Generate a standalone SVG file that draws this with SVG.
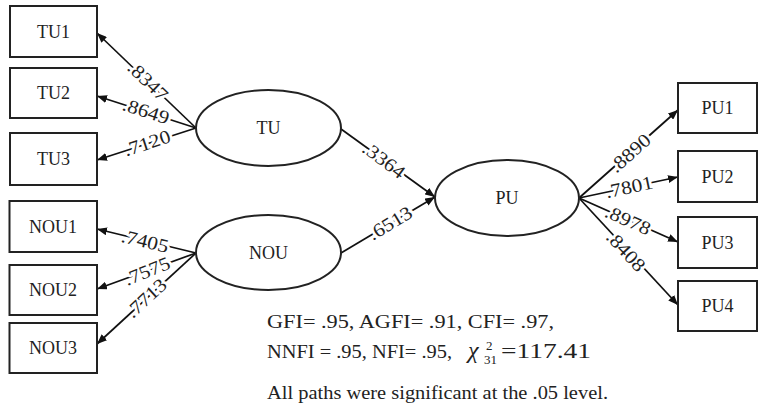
<svg xmlns="http://www.w3.org/2000/svg" width="759" height="407" viewBox="0 0 759 407">
  <defs>
    <marker id="arrow" viewBox="0 0 10 8" refX="10" refY="4" markerWidth="10" markerHeight="8" markerUnits="userSpaceOnUse" orient="auto">
      <path d="M0,0 L10,4 L0,8 Z" fill="#111"/>
    </marker>
    <style>
      text { font-family: 'Liberation Serif', 'DejaVu Serif', 'Times New Roman', serif; fill: #222; }
      .box { fill: #fff; stroke: #222; stroke-width: 2; }
      .lat { fill: #fff; stroke: #222; stroke-width: 2; }
      .name { font-size: 18px; text-anchor: middle; dominant-baseline: central; }
      .edge { stroke: #111; stroke-width: 1.7; fill: none; marker-end: url(#arrow); }
      .lbl { font-size: 19px; text-anchor: middle; dominant-baseline: central; stroke: #fff; stroke-width: 5; paint-order: stroke; stroke-linejoin: round; }
      .note { font-size: 18.5px; }
    </style>
  </defs>

  <rect width="759" height="407" fill="#fff"/>

  <!-- connectors -->
  <g id="connectors">
    <line class="edge" x1="196" y1="128" x2="97" y2="33"/>
    <line class="edge" x1="196" y1="128" x2="97" y2="96"/>
    <line class="edge" x1="196" y1="128" x2="97" y2="160"/>
    <line class="edge" x1="196" y1="253" x2="97" y2="229"/>
    <line class="edge" x1="196" y1="253" x2="97" y2="289"/>
    <line class="edge" x1="196" y1="253" x2="97" y2="344"/>
    <line class="edge" x1="341" y1="129" x2="435" y2="197"/>
    <line class="edge" x1="341" y1="253" x2="435" y2="197"/>
    <line class="edge" x1="579" y1="198" x2="678" y2="110"/>
    <line class="edge" x1="579" y1="198" x2="678" y2="177"/>
    <line class="edge" x1="579" y1="198" x2="678" y2="242"/>
    <line class="edge" x1="579" y1="198" x2="678" y2="305"/>

    <text class="lbl" transform="translate(148,81) rotate(43.8)" textLength="48" lengthAdjust="spacingAndGlyphs">.8347</text>
    <text class="lbl" transform="translate(146,111) rotate(17.9)" textLength="48" lengthAdjust="spacingAndGlyphs">.8649</text>
    <text class="lbl" transform="translate(147,143) rotate(-17.9)" textLength="48" lengthAdjust="spacingAndGlyphs">.7120</text>
    <text class="lbl" transform="translate(145,241) rotate(13.6)" textLength="48" lengthAdjust="spacingAndGlyphs">.7405</text>
    <text class="lbl" transform="translate(147,271) rotate(-22)" textLength="48" lengthAdjust="spacingAndGlyphs">.7575</text>
    <text class="lbl" transform="translate(146,298) rotate(-42.6)" textLength="48" lengthAdjust="spacingAndGlyphs">.7713</text>
    <text class="lbl" transform="translate(384,160) rotate(36.5)" textLength="48" lengthAdjust="spacingAndGlyphs">.3364</text>
    <text class="lbl" transform="translate(390,223) rotate(-31.3)" textLength="48" lengthAdjust="spacingAndGlyphs">.6513</text>
    <text class="lbl" transform="translate(630,153) rotate(-41.6)" textLength="48" lengthAdjust="spacingAndGlyphs">.8890</text>
    <text class="lbl" transform="translate(629,187) rotate(-12)" textLength="48" lengthAdjust="spacingAndGlyphs">.7801</text>
    <text class="lbl" transform="translate(628,220) rotate(24)" textLength="48" lengthAdjust="spacingAndGlyphs">.8978</text>
    <text class="lbl" transform="translate(626,251) rotate(47)" textLength="48" lengthAdjust="spacingAndGlyphs">.8408</text>
  </g>

  <!-- observed indicators -->
  <g id="TU1"><rect class="box" x="10" y="6" width="87" height="51"/><text class="name" x="53.5" y="31.5">TU1</text></g>
  <g id="TU2"><rect class="box" x="10" y="68" width="87" height="50"/><text class="name" x="53.5" y="93">TU2</text></g>
  <g id="TU3"><rect class="box" x="10" y="133" width="87" height="52"/><text class="name" x="53.5" y="159">TU3</text></g>
  <g id="NOU1"><rect class="box" x="9.5" y="201" width="87.5" height="51"/><text class="name" x="53" y="226.5">NOU1</text></g>
  <g id="NOU2"><rect class="box" x="9.5" y="265" width="87.5" height="50"/><text class="name" x="53" y="290">NOU2</text></g>
  <g id="NOU3"><rect class="box" x="9.5" y="323" width="87.5" height="50"/><text class="name" x="53" y="348">NOU3</text></g>
  <g id="PU1"><rect class="box" x="678" y="83" width="79" height="50"/><text class="name" x="717.5" y="108">PU1</text></g>
  <g id="PU2"><rect class="box" x="678" y="151" width="79" height="51"/><text class="name" x="717.5" y="176.5">PU2</text></g>
  <g id="PU3"><rect class="box" x="678" y="217" width="79" height="51"/><text class="name" x="717.5" y="242.5">PU3</text></g>
  <g id="PU4"><rect class="box" x="678" y="281" width="79" height="50"/><text class="name" x="717.5" y="306">PU4</text></g>

  <!-- latent constructs -->
  <g id="TU"><ellipse class="lat" cx="268.5" cy="128" rx="72.5" ry="38"/><text class="name" x="268.5" y="128">TU</text></g>
  <g id="NOU"><ellipse class="lat" cx="268.5" cy="252.5" rx="72.5" ry="37.5"/><text class="name" x="268.5" y="252.5">NOU</text></g>
  <g id="PU"><ellipse class="lat" cx="507" cy="198" rx="72" ry="38"/><text class="name" x="507" y="198">PU</text></g>

  <!-- fit statistics -->
  <g id="fit">
    <text class="note" x="267" y="328" textLength="287" lengthAdjust="spacingAndGlyphs">GFI= .95, AGFI= .91, CFI= .97,</text>
    <text class="note" x="267" y="358" textLength="185" lengthAdjust="spacingAndGlyphs">NNFI = .95, NFI= .95,</text>
    <text x="468" y="358" style="font-size:24px; font-style:italic">χ</text>
    <text x="486" y="350" style="font-size:13px">2</text>
    <text x="484" y="364" style="font-size:13px">31</text>
    <text x="501" y="358" style="font-size:21px" textLength="90" lengthAdjust="spacingAndGlyphs">=117.41</text>
    <text class="note" x="267" y="399" textLength="341" lengthAdjust="spacingAndGlyphs">All paths were significant at the .05 level.</text>
  </g>
</svg>
